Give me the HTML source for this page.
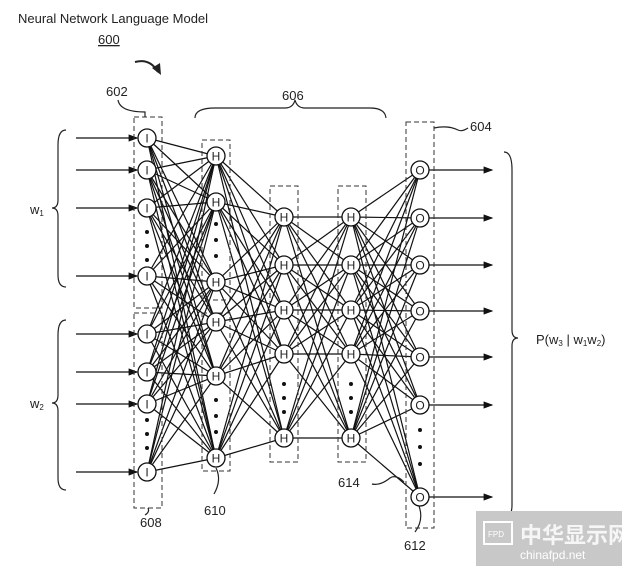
<!DOCTYPE html>
<html><head><meta charset="utf-8"><style>
body{margin:0;background:#fff;width:626px;height:570px;overflow:hidden}
text{font-family:"Liberation Sans",sans-serif;fill:#222}
</style></head><body>
<svg id="s" width="626" height="570" viewBox="0 0 626 570" xmlns="http://www.w3.org/2000/svg">
<defs><marker id="a" markerWidth="8" markerHeight="6" refX="7" refY="3" orient="auto"><path d="M0,0L8,3L0,6z" fill="#111"/></marker></defs>
<g id="lines" stroke="#111" stroke-width="1.2"></g>
<g fill="none" stroke="#333" stroke-width="1" stroke-dasharray="5,3">
<rect x="134" y="117" width="28" height="191"/><rect x="134" y="313" width="28" height="195"/>
<rect x="202" y="140" width="28" height="160"/><rect x="202" y="313" width="28" height="158"/>
<rect x="270" y="186" width="28" height="276"/><rect x="338" y="186" width="28" height="276"/>
<rect x="406" y="122" width="28" height="406"/>
</g>
<g fill="none" stroke="#222" stroke-width="1.2">
<path d="M66,130 Q58,130 58,145 L58,200 Q58,208 52,208 Q58,208 58,216 L58,275 Q58,287 66,287"/>
<path d="M66,320 Q58,320 58,335 L58,395 Q58,403 52,403 Q58,403 58,411 L58,478 Q58,490 66,490"/>
<path d="M504,152 Q512,152 512,170 L512,330 Q512,338 518,338 Q512,338 512,346 L512,505 Q512,518 504,518"/>
<path d="M195,118 Q195,108 215,108 L285,108 Q293,108 295,100 Q297,108 305,108 L370,108 Q385,108 386,118"/>
<path d="M118,100 Q120,112 145,112 L145,117"/>
<path d="M434,128 Q448,125 458,130 Q462,132 468,128"/>
<path d="M148,508 Q150,512 145,515"/>
<path d="M216,468 Q222,480 214,494"/>
<path d="M419,506 Q424,520 415,532"/>
<path d="M372,484 Q380,486 390,478 Q396,474 404,482"/>
</g>
<path d="M135,62 Q150,58 158,72" fill="none" stroke="#222" stroke-width="2"/>
<path d="M152,68 L161,75 L160,63z" fill="#222"/>
<g id="nodes"></g>
<g font-size="13">
<text x="18" y="23">Neural Network Language Model</text>
<text x="98" y="44" text-decoration="underline">600</text>
<text x="106" y="96">602</text><text x="282" y="100">606</text><text x="470" y="131">604</text>
<text x="140" y="527">608</text><text x="204" y="515">610</text><text x="404" y="550">612</text><text x="338" y="487">614</text>
<text x="30" y="214">w<tspan font-size="8" dy="2">1</tspan></text>
<text x="30" y="408">w<tspan font-size="8" dy="2">2</tspan></text>
<text x="536" y="344">P(w<tspan font-size="8" dy="2">3</tspan><tspan dy="-2"> | w</tspan><tspan font-size="8" dy="2">1</tspan><tspan dy="-2">w</tspan><tspan font-size="8" dy="2">2</tspan><tspan dy="-2">)</tspan></text>
</g>
<rect x="476" y="511" width="146" height="55" fill="#c8c8c8"/>
<rect x="484" y="522" width="28" height="22" fill="none" stroke="#fff" stroke-width="2"/>
<text x="488" y="537" font-size="8" style="fill:#fff">FPD</text>
<text x="520" y="543" font-size="22" font-weight="bold" style="fill:#fff;opacity:.85;font-family:'Liberation Sans','Noto Sans CJK SC',sans-serif">中华显示网</text>
<text x="520" y="559" font-size="12" style="fill:#fff">chinafpd.net</text>
</svg>
<script>
const L=[[147,[138,170,208,276,334,372,404,472],'I'],[216,[156,202,282,322,376,458],'H'],[284,[217,265,310,354,438],'H'],[351,[217,265,310,354,438],'H'],[420,[170,218,265,311,357,405,497],'O']];
let g=document.getElementById('lines'),n=document.getElementById('nodes'),h='',m='';
for(let i=0;i<4;i++)for(const a of L[i][1])for(const b of L[i+1][1])h+=`<line x1="${L[i][0]}" y1="${a}" x2="${L[i+1][0]}" y2="${b}"/>`;
for(const y of L[0][1])h+=`<line x1="76" y1="${y}" x2="137" y2="${y}" marker-end="url(#a)"/>`;
for(const y of L[4][1])h+=`<line x1="429" y1="${y}" x2="492" y2="${y}" marker-end="url(#a)"/>`;
g.innerHTML=h;
for(const [x,ys,c] of L)for(const y of ys)m+=`<circle cx="${x}" cy="${y}" r="9" fill="#fff" stroke="#111" stroke-width="1.3"/><text x="${x}" y="${y+4.5}" font-size="12" text-anchor="middle">${c}</text>`;
const dots=[[147,[232,246,260,420,434,448]],[216,[224,240,256,400,416,432]],[284,[384,398,412]],[351,[384,398,412]],[420,[430,447,464]]];
for(const [x,ys] of dots)for(const y of ys)m+=`<circle cx="${x}" cy="${y}" r="2" fill="#111"/>`;
n.innerHTML=m;
</script>
</body></html>
